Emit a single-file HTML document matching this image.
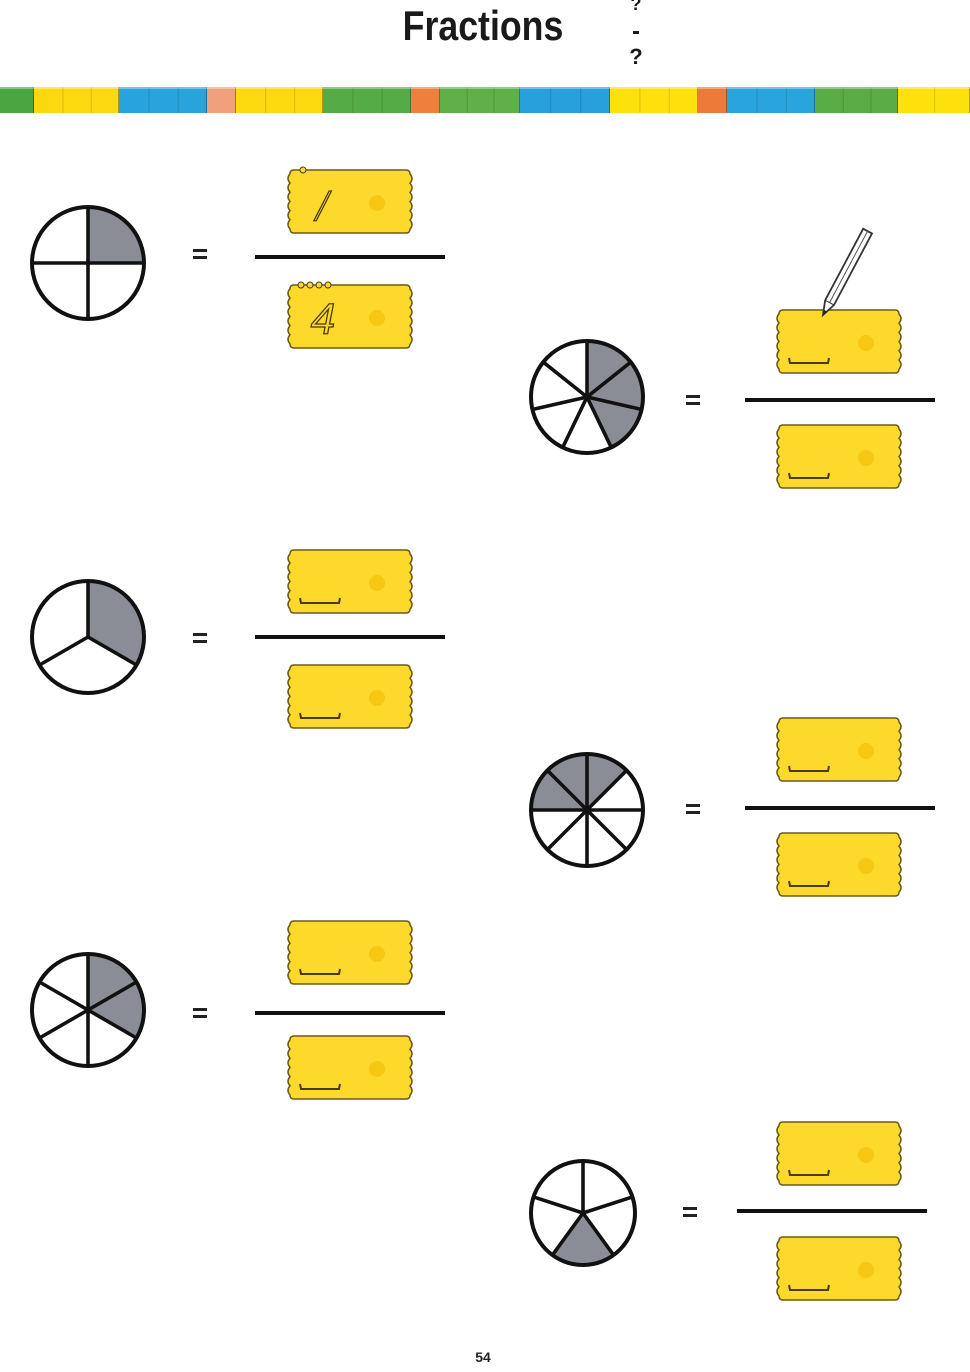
<!DOCTYPE html>
<html><head><meta charset="utf-8"><style>
html,body{margin:0;padding:0;background:#fff}
body{width:970px;height:1372px;position:relative;overflow:hidden}
svg{position:absolute;left:0;top:0}
</style></head><body>
<svg id="s" width="970" height="1372" viewBox="0 0 970 1372" xmlns="http://www.w3.org/2000/svg">
<text x="483" y="40" text-anchor="middle" font-family="Liberation Sans Narrow, Liberation Sans, sans-serif" font-weight="bold" font-size="42" fill="#1a1a1a" transform="translate(483 0) scale(0.85 1) translate(-483 0)">Fractions</text>
<text x="636" y="10" text-anchor="middle" font-family="Liberation Sans, sans-serif" font-weight="bold" font-size="18" fill="#1a1a1a">?</text>
<rect x="633" y="31" width="6" height="3" fill="#1a1a1a"/>
<text x="636" y="64" text-anchor="middle" font-family="Liberation Sans, sans-serif" font-weight="bold" font-size="22" fill="#1a1a1a">?</text>
<text x="483" y="1362" text-anchor="middle" font-family="Liberation Sans, sans-serif" font-weight="bold" font-size="14" fill="#222">54</text>
<g id="g"></g>
</svg>
<script>
var g=document.getElementById('g'),h='';
var segs=[[0,34,'#4aa640'],[34,119,'#fcd90f'],[119,207,'#29a3dc'],[207,236,'#f0a07a'],[236,323,'#fcd90f'],[323,411,'#55ab45'],[411,440,'#ee7f3c'],[440,520,'#5fb048'],[520,610,'#27a0db'],[610,698,'#fde10c'],[698,727,'#ec7b3a'],[727,815,'#2aa4dc'],[815,898,'#5aad45'],[898,970,'#fde10c']];
segs.forEach(function(s){h+='<rect x="'+s[0]+'" y="87" width="'+(s[1]-s[0])+'" height="26" fill="'+s[2]+'"/>';
var n=Math.round((s[1]-s[0])/29);for(var i=1;i<n;i++){var x=s[0]+(s[1]-s[0])*i/n;h+='<rect x="'+x+'" y="87" width="1.2" height="26" fill="rgba(0,0,0,0.12)"/>';}
h+='<rect x="'+(s[1]-1)+'" y="87" width="1.5" height="26" fill="rgba(0,0,0,0.3)"/>';});
h+='<rect x="0" y="87" width="970" height="2" fill="rgba(255,255,255,0.35)"/>';
function pie(cx,cy,r,n,shade){var o='';
for(var i=0;i<n;i++){if(shade.indexOf(i)<0)continue;var a1=2*Math.PI*i/n,a2=2*Math.PI*(i+1)/n;
o+='<path d="M'+cx+' '+cy+' L'+(cx+r*Math.sin(a1))+' '+(cy-r*Math.cos(a1))+' A'+r+' '+r+' 0 0 1 '+(cx+r*Math.sin(a2))+' '+(cy-r*Math.cos(a2))+' Z" fill="#8a8d96"/>';}
for(var i=0;i<n;i++){var a=2*Math.PI*i/n;o+='<line x1="'+cx+'" y1="'+cy+'" x2="'+(cx+r*Math.sin(a))+'" y2="'+(cy-r*Math.cos(a))+'" stroke="#111" stroke-width="3.6"/>';}
o+='<circle cx="'+cx+'" cy="'+cy+'" r="'+r+'" fill="none" stroke="#111" stroke-width="4"/>';return o;}
function box(x,y,blank){var w=120,hh=63,p='M'+(x+4)+' '+y+' L'+(x+w-4)+' '+y+' Q'+(x+w)+' '+y+' '+(x+w)+' '+(y+4);
for(var k=0;k<6;k++){var yy=y+4+k*9.2;p+=' Q'+(x+w+4)+' '+(yy+4.6)+' '+(x+w)+' '+(yy+9.2);}
p+=' L'+(x+w)+' '+(y+hh-4)+' Q'+(x+w)+' '+(y+hh)+' '+(x+w-4)+' '+(y+hh)+' L'+(x+4)+' '+(y+hh)+' Q'+x+' '+(y+hh)+' '+x+' '+(y+hh-4);
for(var k=0;k<6;k++){var yy=y+hh-4-k*9.2;p+=' Q'+(x-4)+' '+(yy-4.6)+' '+x+' '+(yy-9.2);}
p+=' Q'+x+' '+y+' '+(x+4)+' '+y+' Z';
var o='<path d="'+p+'" fill="#fdd92c" stroke="#6b5a1a" stroke-width="1.5"/>';
o+='<circle cx="'+(x+87)+'" cy="'+(y+33)+'" r="8" fill="#f6c814"/>';
if(blank)o+='<path d="M'+(x+10)+' '+(y+48)+' L'+(x+11)+' '+(y+53)+' L'+(x+49)+' '+(y+53)+' L'+(x+50)+' '+(y+48)+'" fill="none" stroke="#4a3a10" stroke-width="2"/>';
return o;}
function eq(x,y){return '<rect x="'+(x-7)+'" y="'+(y-4)+'" width="14" height="3" fill="#222"/><rect x="'+(x-7)+'" y="'+(y+3)+'" width="14" height="3" fill="#222"/>';}
function frac(bx,x1,x2,ly,ty,by,blank){return '<rect x="'+x1+'" y="'+(ly-2)+'" width="'+(x2-x1)+'" height="4" fill="#111"/>'+box(bx,ty,blank)+box(bx,by,blank);}
h+=pie(88,263,56,4,[0])+eq(200,253)+frac(290,255,445,257,170,285,false);
h+=pie(88,637,56,3,[0])+eq(200,637)+frac(290,255,445,637,550,665,true);
h+=pie(88,1010,56,6,[0,1])+eq(200,1012)+frac(290,255,445,1013,921,1036,true);
h+=pie(587,397,56,7,[0,1,2])+eq(693,399)+frac(779,745,935,400,310,425,true);
h+=pie(587,810,56,8,[7,6,0])+eq(693,808)+frac(779,745,935,808,718,833,true);
h+=pie(583,1213,52,5,[2])+eq(690,1211)+frac(779,737,927,1211,1122,1237,true);
h+='<text x="322" y="220" text-anchor="middle" font-family="Liberation Serif, serif" font-style="italic" font-size="44" fill="#fdd92c" stroke="#4a3a10" stroke-width="1.3">/</text>';
h+='<text x="323" y="334" text-anchor="middle" font-family="Liberation Sans, sans-serif" font-style="italic" font-size="44" fill="#fdd92c" stroke="#4a3a10" stroke-width="1.3">4</text>';
h+='<circle cx="303" cy="170" r="3" fill="#fdd92c" stroke="#4a3a10" stroke-width="1"/>';
for(var i=0;i<4;i++)h+='<circle cx="'+(301+i*9)+'" cy="285" r="3" fill="#fdd92c" stroke="#4a3a10" stroke-width="1"/>';
h+='<g transform="translate(823 315) rotate(28)"><path d="M0 0 L-5 -14 L-5 -95 L5 -95 L5 -14 Z" fill="#fff" stroke="#333" stroke-width="1.8"/><line x1="0" y1="-14" x2="0" y2="-95" stroke="#555" stroke-width="1"/><line x1="-5" y1="-14" x2="5" y2="-14" stroke="#333" stroke-width="1"/><path d="M0 0 L-1.8 -5 L1.8 -5 Z" fill="#222"/></g>';
g.innerHTML=h;
</script>
</body></html>
